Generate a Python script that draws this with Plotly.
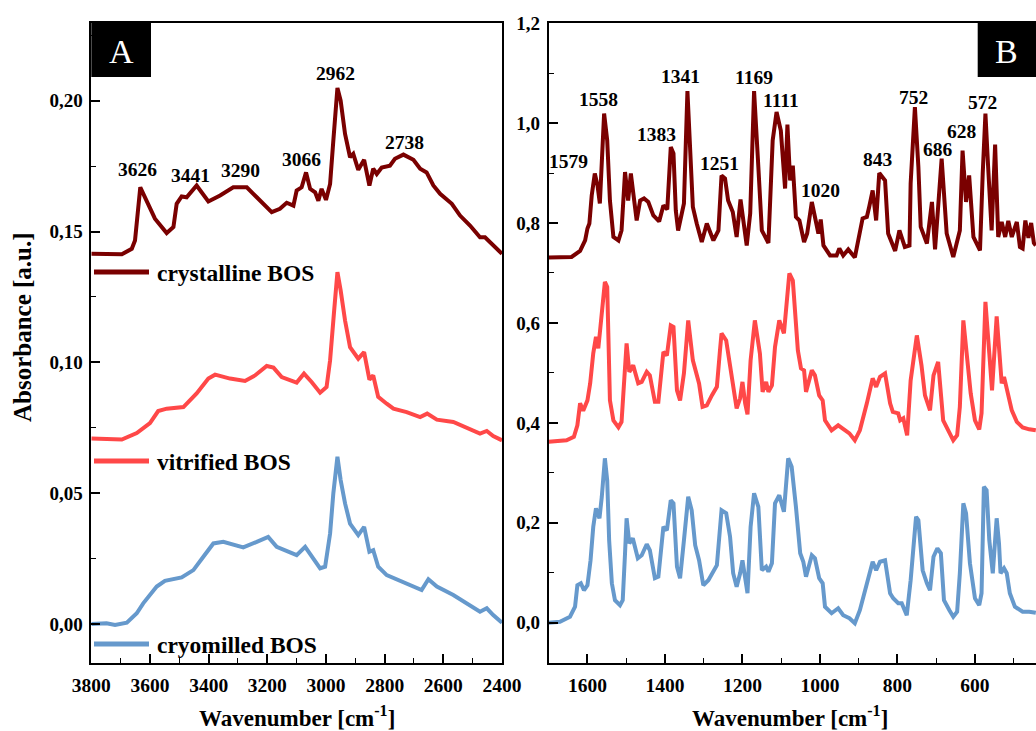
import plotly.graph_objects as go

# ---------------- Panel A (3800-2400 cm-1) ----------------
wn_cryst_A = [3800, 3696, 3662, 3651, 3633, 3611, 3583, 3543, 3520, 3509, 3492, 3475, 3441, 3401, 3361,
              3316, 3270, 3236, 3185, 3157, 3134, 3111, 3100, 3083, 3068, 3054, 3037, 3026, 3015, 3000,
              2986, 2975, 2961, 2950, 2935, 2918, 2907, 2890, 2870, 2852, 2839, 2827, 2810, 2782, 2765,
              2736, 2702, 2679, 2657, 2634, 2611, 2571, 2543, 2509, 2475, 2458, 2430, 2400]
abs_cryst_A = [0.1415, 0.1413, 0.1434, 0.1466, 0.1669, 0.1618, 0.1549, 0.1494, 0.1517, 0.1606, 0.1634,
               0.1631, 0.1676, 0.1615, 0.1638, 0.1669, 0.1669, 0.1631, 0.1574, 0.1587, 0.1610, 0.1599,
               0.1657, 0.1669, 0.1726, 0.1663, 0.1650, 0.1618, 0.1663, 0.1621, 0.1682, 0.1847, 0.2049,
               0.2000, 0.1873, 0.1784, 0.1797, 0.1736, 0.1774, 0.1676, 0.1740, 0.1720, 0.1745, 0.1752,
               0.1778, 0.1794, 0.1774, 0.1740, 0.1726, 0.1676, 0.1644, 0.1606, 0.1561, 0.1523, 0.1478,
               0.1478, 0.1447, 0.1415]

wn_vitr_A = [3800, 3696, 3645, 3600, 3572, 3543, 3486, 3441, 3401, 3378, 3327, 3276, 3242, 3202, 3179,
             3151, 3100, 3075, 3049, 3020, 2998, 2986, 2972, 2961, 2950, 2935, 2918, 2890, 2870, 2852,
             2839, 2822, 2793, 2770, 2725, 2679, 2655, 2622, 2566, 2520, 2475, 2452, 2430, 2400]
abs_vitr_A = [0.0709, 0.0705, 0.0730, 0.0768, 0.0814, 0.0823, 0.0829, 0.0881, 0.0938, 0.0953, 0.0938,
              0.0929, 0.0950, 0.0986, 0.0980, 0.0944, 0.0923, 0.0957, 0.0925, 0.0884, 0.0906, 0.1008,
              0.1200, 0.1345, 0.1275, 0.1160, 0.1058, 0.1014, 0.1039, 0.0934, 0.0950, 0.0868, 0.0842,
              0.0823, 0.0810, 0.0791, 0.0804, 0.0781, 0.0772, 0.0751, 0.0728, 0.0738, 0.0718, 0.0702]

wn_cryo_A = [3800, 3748, 3719, 3679, 3645, 3623, 3577, 3549, 3492, 3452, 3418, 3384, 3350, 3282, 3236,
             3197, 3168, 3134, 3100, 3071, 3043, 3020, 3003, 2986, 2975, 2961, 2950, 2935, 2918, 2890,
             2870, 2852, 2839, 2822, 2793, 2753, 2714, 2674, 2651, 2622, 2566, 2520, 2475, 2452, 2430, 2400]
abs_cryo_A = [0.0000, 0.0003, -0.0004, 0.0005, 0.0041, 0.0079, 0.0143, 0.0165, 0.0178, 0.0206, 0.0257,
              0.0308, 0.0314, 0.0293, 0.0314, 0.0333, 0.0295, 0.0280, 0.0263, 0.0295, 0.0251, 0.0213,
              0.0219, 0.0346, 0.0499, 0.0639, 0.0550, 0.0461, 0.0384, 0.0340, 0.0371, 0.0276, 0.0282,
              0.0219, 0.0187, 0.0168, 0.0149, 0.0130, 0.0171, 0.0143, 0.0111, 0.0079, 0.0047, 0.0060,
              0.0034, 0.0005]

# ---------------- Panel B (1700-443 cm-1) ----------------
wn_cryst_B = [1700, 1641, 1619, 1606, 1600, 1595, 1589, 1581, 1574, 1568, 1557, 1549, 1542, 1533, 1520,
              1512, 1503, 1495, 1488, 1482, 1473, 1464, 1454, 1443, 1430, 1415, 1404, 1394, 1385, 1378,
              1372, 1366, 1357, 1351, 1342, 1335, 1328, 1318, 1305, 1292, 1275, 1262, 1254, 1245, 1237,
              1225, 1215, 1205, 1198, 1189, 1180, 1170, 1159, 1150, 1133, 1122, 1112, 1101, 1090, 1084,
              1077, 1070, 1062, 1053, 1041, 1033, 1021, 1010, 1004, 998, 991, 974, 957, 950, 940, 927,
              910, 890, 879, 873, 864, 855, 847, 832, 824, 806, 795, 781, 769, 766, 755, 746, 740, 724,
              711, 703, 686, 673, 656, 639, 632, 623, 615, 604, 587, 580, 573, 566, 557, 548, 540, 531,
              522, 514, 505, 492, 484, 477, 470, 462, 455, 448, 443]
abs_cryst_B = [0.731, 0.732, 0.744, 0.765, 0.789, 0.799, 0.855, 0.899, 0.875, 0.839, 1.019, 0.965, 0.845,
               0.772, 0.765, 0.785, 0.902, 0.845, 0.899, 0.859, 0.805, 0.845, 0.849, 0.842, 0.815, 0.803,
               0.835, 0.827, 0.952, 0.939, 0.825, 0.785, 0.819, 0.839, 1.064, 0.965, 0.832, 0.799, 0.762,
               0.799, 0.765, 0.785, 0.895, 0.889, 0.845, 0.822, 0.772, 0.847, 0.805, 0.755, 0.819, 1.064,
               0.912, 0.785, 0.760, 0.965, 1.022, 0.985, 0.869, 0.997, 0.885, 0.915, 0.812, 0.805, 0.762,
               0.779, 0.842, 0.805, 0.779, 0.807, 0.755, 0.735, 0.735, 0.749, 0.735, 0.747, 0.731, 0.809,
               0.812, 0.832, 0.865, 0.805, 0.900, 0.885, 0.779, 0.744, 0.785, 0.752, 0.755, 0.879, 1.032,
               0.912, 0.792, 0.759, 0.842, 0.747, 0.929, 0.779, 0.732, 0.785, 0.945, 0.842, 0.895, 0.772,
               0.745, 0.899, 1.019, 0.912, 0.785, 0.957, 0.772, 0.802, 0.772, 0.804, 0.772, 0.802, 0.752,
               0.749, 0.805, 0.770, 0.800, 0.760, 0.755]

wn_vitr_B = [1700, 1654, 1635, 1626, 1619, 1611, 1600, 1593, 1585, 1578, 1572, 1555, 1549, 1542, 1533,
             1520, 1512, 1506, 1499, 1492, 1482, 1469, 1460, 1447, 1439, 1426, 1417, 1404, 1395, 1385,
             1378, 1369, 1361, 1351, 1340, 1328, 1318, 1312, 1303, 1292, 1279, 1266, 1258, 1254, 1242,
             1232, 1224, 1215, 1206, 1200, 1193, 1187, 1179, 1168, 1155, 1148, 1139, 1133, 1124, 1116,
             1105, 1093, 1079, 1070, 1057, 1049, 1041, 1036, 1021, 1013, 1002, 993, 987, 970, 953, 940,
             924, 910, 897, 879, 864, 855, 845, 832, 819, 812, 798, 793, 785, 775, 766, 750, 738, 729,
             716, 707, 695, 682, 669, 656, 646, 639, 630, 621, 611, 600, 589, 583, 573, 563, 556, 544,
             535, 531, 525, 514, 505, 492, 477, 460, 443]
abs_vitr_B = [0.362, 0.365, 0.372, 0.395, 0.439, 0.424, 0.445, 0.479, 0.539, 0.572, 0.549, 0.682, 0.672,
              0.445, 0.405, 0.391, 0.402, 0.479, 0.559, 0.502, 0.515, 0.479, 0.482, 0.502, 0.495, 0.442,
              0.442, 0.542, 0.535, 0.595, 0.592, 0.465, 0.445, 0.499, 0.605, 0.525, 0.492, 0.479, 0.432,
              0.435, 0.455, 0.472, 0.545, 0.579, 0.565, 0.519, 0.472, 0.429, 0.449, 0.482, 0.439, 0.417,
              0.525, 0.605, 0.539, 0.462, 0.482, 0.462, 0.475, 0.552, 0.605, 0.579, 0.699, 0.685, 0.545,
              0.509, 0.505, 0.462, 0.505, 0.495, 0.455, 0.445, 0.405, 0.385, 0.395, 0.387, 0.379, 0.365,
              0.385, 0.439, 0.489, 0.472, 0.492, 0.499, 0.439, 0.422, 0.419, 0.405, 0.409, 0.375, 0.485,
              0.575, 0.515, 0.455, 0.425, 0.495, 0.522, 0.405, 0.385, 0.365, 0.375, 0.432, 0.605, 0.525,
              0.459, 0.405, 0.387, 0.419, 0.642, 0.539, 0.465, 0.613, 0.499, 0.479, 0.492, 0.459, 0.425,
              0.402, 0.391, 0.387, 0.385]

wn_cryo_B = [1700, 1671, 1645, 1632, 1626, 1617, 1609, 1600, 1592, 1585, 1578, 1569, 1563, 1555, 1549,
             1544, 1537, 1529, 1516, 1509, 1503, 1499, 1492, 1483, 1470, 1460, 1447, 1439, 1426, 1417,
             1404, 1395, 1385, 1378, 1369, 1361, 1351, 1340, 1331, 1322, 1312, 1301, 1288, 1275, 1266,
             1254, 1242, 1232, 1224, 1215, 1206, 1200, 1193, 1187, 1179, 1170, 1159, 1150, 1139, 1133,
             1124, 1116, 1105, 1093, 1082, 1073, 1062, 1051, 1043, 1036, 1021, 1013, 1002, 993, 987, 970,
             953, 940, 924, 910, 897, 879, 864, 855, 845, 832, 819, 811, 798, 789, 776, 766, 752, 746,
             735, 724, 716, 707, 697, 688, 680, 666, 656, 646, 639, 630, 623, 613, 600, 589, 583, 577,
             570, 563, 554, 544, 538, 534, 525, 518, 510, 497, 484, 477, 460, 443]
abs_cryo_B = [0.000, 0.002, 0.012, 0.032, 0.075, 0.079, 0.065, 0.075, 0.125, 0.192, 0.229, 0.209, 0.252,
              0.329, 0.285, 0.165, 0.079, 0.045, 0.035, 0.045, 0.139, 0.209, 0.159, 0.169, 0.129, 0.135,
              0.157, 0.145, 0.089, 0.092, 0.192, 0.185, 0.245, 0.239, 0.112, 0.089, 0.165, 0.252, 0.225,
              0.155, 0.125, 0.075, 0.085, 0.102, 0.115, 0.225, 0.219, 0.172, 0.099, 0.072, 0.099, 0.125,
              0.085, 0.059, 0.192, 0.259, 0.232, 0.105, 0.112, 0.102, 0.119, 0.239, 0.255, 0.222, 0.329,
              0.312, 0.232, 0.139, 0.122, 0.092, 0.135, 0.129, 0.089, 0.079, 0.032, 0.019, 0.029, 0.015,
              0.009, -0.001, 0.025, 0.079, 0.122, 0.105, 0.122, 0.125, 0.059, 0.049, 0.039, 0.039, 0.015,
              0.085, 0.212, 0.205, 0.105, 0.079, 0.065, 0.132, 0.149, 0.139, 0.045, 0.025, 0.012, 0.022,
              0.099, 0.239, 0.219, 0.119, 0.049, 0.035, 0.059, 0.272, 0.265, 0.165, 0.099, 0.209, 0.159,
              0.099, 0.109, 0.099, 0.059, 0.032, 0.024, 0.022, 0.022, 0.020]

# Peak labels: (text, wavenumber position, absorbance position)
labels_A = [("3626", 3641, 0.1737), ("3441", 3463, 0.1714), ("3290", 3293, 0.1733),
            ("3066", 3082, 0.1775), ("2962", 2966, 0.2103), ("2738", 2734, 0.1840)]
labels_B = [("1579", 1649, 0.924), ("1558", 1572, 1.047), ("1383", 1421, 0.977),
            ("1341", 1361, 1.093), ("1251", 1258, 0.919), ("1169", 1170, 1.091),
            ("1111", 1100, 1.045), ("1020", 998, 0.864), ("843", 849, 0.927),
            ("752", 759, 1.052), ("686", 695, 0.947), ("628", 634, 0.984), ("572", 581, 1.041)]

series_names = ["crystalline BOS", "vitrified BOS", "cryomilled BOS"]
colors = ["#7a0000", "#ff4848", "#6699cc"]

W, H = 1036, 731
def px(x): return x / W
def py(y): return 1 - y / H

fig = go.Figure()
LW = 4
dataA = [(wn_cryst_A, abs_cryst_A), (wn_vitr_A, abs_vitr_A), (wn_cryo_A, abs_cryo_A)]
dataB = [(wn_cryst_B, abs_cryst_B), (wn_vitr_B, abs_vitr_B), (wn_cryo_B, abs_cryo_B)]
for (x, y), c, n in zip(dataA, colors, series_names):
    fig.add_trace(go.Scatter(x=x, y=y, mode="lines", line=dict(color=c, width=LW),
                             name=n, xaxis="x", yaxis="y", showlegend=False))
for (x, y), c, n in zip(dataB, colors, series_names):
    fig.add_trace(go.Scatter(x=x, y=y, mode="lines", line=dict(color=c, width=LW),
                             name=n, xaxis="x2", yaxis="y2", showlegend=False))

FONT = "Liberation Serif"
tickx = dict(family=FONT, size=19.5, color="black", weight="bold")
ticky = dict(family=FONT, size=19, color="black", weight="bold")
common = dict(showgrid=False, zeroline=False, showline=True, linecolor="black", linewidth=1.6,
              ticks="inside", ticklen=9, tickwidth=1.5, tickcolor="black", automargin=False)

yA_dom = [py(663), py(23)]
fig.update_layout(
    template="none",
    width=W, height=H, margin=dict(l=0, r=0, t=0, b=0, pad=0), autosize=False,
    paper_bgcolor="white", plot_bgcolor="white", separators=",.",
    xaxis=dict(domain=[px(91.3), px(502)], range=[3800, 2400], dtick=200, tick0=2400,
               mirror=True, tickfont=tickx, ticklabelstandoff=4,
               minor=dict(ticks="inside", ticklen=5, dtick=100, tickcolor="black", tickwidth=1.2),
               anchor="y", **common),
    yaxis=dict(domain=yA_dom, range=[-0.0149, 0.2297], dtick=0.05, tick0=0, tickformat=".2f",
               mirror=True, tickfont=ticky, ticklabelstandoff=3,
               minor=dict(ticks="inside", ticklen=5, dtick=0.025, tickcolor="black", tickwidth=1.2),
               anchor="x", **common),
    xaxis2=dict(domain=[px(548.7), 1.0], range=[1700, 442.5], dtick=200, tick0=400,
                mirror=True, tickfont=tickx, ticklabelstandoff=4,
                minor=dict(ticks="inside", ticklen=5, dtick=100, tickcolor="black", tickwidth=1.2),
                anchor="y2", **common),
    yaxis2=dict(domain=yA_dom, range=[-0.0806, 1.2002], dtick=0.2, tick0=0, tickformat=".1f",
                mirror=False, tickfont=ticky, ticklabelstandoff=3,
                minor=dict(ticks="inside", ticklen=5, dtick=0.1, tickcolor="black", tickwidth=1.2),
                anchor="x2", **common),
)

ann = []
lab_font = dict(family=FONT, size=19.5, color="black", weight="bold")
for t, x, y in labels_A:
    ann.append(dict(text=t, x=x, y=y, xref="x", yref="y", showarrow=False, font=lab_font,
                    xanchor="center", yanchor="middle"))
for t, x, y in labels_B:
    ann.append(dict(text=t, x=x, y=y, xref="x2", yref="y2", showarrow=False, font=lab_font,
                    xanchor="center", yanchor="middle"))

# axis titles
title_font = dict(family=FONT, size=23, color="black", weight="bold")
ann.append(dict(text="Wavenumber [cm<sup>-1</sup>]", x=px(297), y=py(716), xref="paper", yref="paper",
                showarrow=False, font=title_font, xanchor="center", yanchor="middle"))
ann.append(dict(text="Wavenumber [cm<sup>-1</sup>]", x=px(790), y=py(716), xref="paper", yref="paper",
                showarrow=False, font=title_font, xanchor="center", yanchor="middle"))
ann.append(dict(text="Absorbance [a.u.]", x=px(22), y=py(327), xref="paper", yref="paper",
                showarrow=False, font=dict(family=FONT, size=25, color="black", weight="bold"),
                textangle=-90, xanchor="center", yanchor="middle"))

# in-plot legend
shapes = []
leg_y = [272, 461, 644]
for n, c, ly in zip(series_names, colors, leg_y):
    shapes.append(dict(type="line", xref="paper", yref="paper", x0=px(94), x1=px(149), y0=py(ly), y1=py(ly),
                       line=dict(color=c, width=5)))
    ann.append(dict(text=n, x=px(155), y=py(ly + 1), xref="paper", yref="paper", showarrow=False,
                    font=dict(family=FONT, size=23.5, color="black", weight="bold"),
                    xanchor="left", yanchor="middle"))

# panel letters
for letter, x0, x1 in [("A", 91.3, 151), ("B", 977.7, 1036)]:
    shapes.append(dict(type="rect", xref="paper", yref="paper", x0=px(x0), x1=px(x1), y0=py(77), y1=py(23),
                       fillcolor="black", line=dict(width=0), layer="above"))
    ann.append(dict(text=letter, x=px((x0 + x1) / 2), y=py(51), xref="paper", yref="paper", showarrow=False,
                    font=dict(family=FONT, size=34, color="white"), xanchor="center", yanchor="middle"))

fig.update_layout(annotations=ann, shapes=shapes)
fig.write_html("out.html")
